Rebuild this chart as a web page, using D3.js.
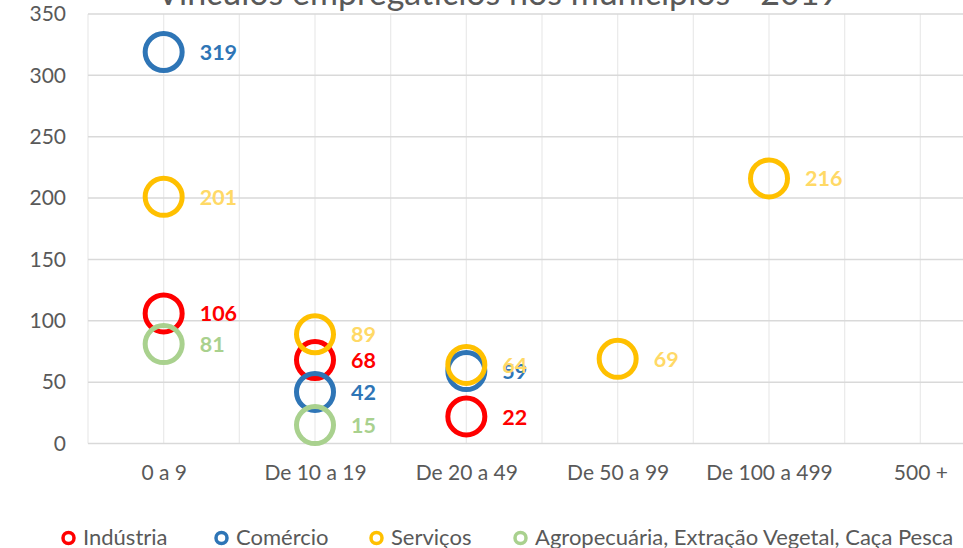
<!DOCTYPE html>
<html>
<head>
<meta charset="utf-8">
<script src="https://cdn.jsdelivr.net/npm/d3@7"></script>
<style>
  body { margin: 0; background: #fff; }
  svg { display: block; overflow: hidden; font-family: Lato, "Open Sans", sans-serif; }
</style>
</head>
<body>
<svg></svg>
<script>
// data
var categories = ["0 a 9", "De 10 a 19", "De 20 a 49", "De 50 a 99", "De 100 a 499", "500 +"];
var yTicks = [0, 50, 100, 150, 200, 250, 300, 350];

var industria = [106, 68, 22, null, null, null];
var comercio = [319, 42, 59, null, null, null];
var servicos = [201, 89, 64, 69, 216, null];
var agro = [81, 15, null, null, null, null];

var seriesNames = ["Indústria", "Comércio", "Serviços", "Agropecuária, Extração Vegetal, Caça Pesca"];
var markerColors = ["#FF0000", "#2E75B6", "#FFC000", "#A9D18E"];
var labelColors = ["#FF0000", "#2E75B6", "#FFD966", "#A9D18E"];
var seriesValues = [industria, comercio, servicos, agro];

var W = 963, H = 548;
var margin = { top: 14, left: 88, bottom: 104 };

var svg = d3.select("svg")
  .attr("width", W)
  .attr("height", H);

// scales - plot goes past the right edge (cropped like the picture)
var x = d3.scaleLinear()
  .domain([0.5, 6.5])
  .range([margin.left, 996]);

var y = d3.scaleLinear()
  .domain([0, 350])
  .range([443.5, margin.top]);

// vertical grid every half unit
var vgrid = d3.range(0.5, 6.6, 0.5);
svg.append("g")
  .selectAll("line")
  .data(vgrid)
  .enter().append("line")
  .attr("x1", d => x(d)).attr("x2", d => x(d))
  .attr("y1", y(350)).attr("y2", y(0))
  .attr("stroke", "#EBEBEB")
  .attr("stroke-width", 1.3);

// horizontal grid
svg.append("g")
  .selectAll("line")
  .data(yTicks)
  .enter().append("line")
  .attr("x1", x(0.5)).attr("x2", W)
  .attr("y1", d => y(d)).attr("y2", d => y(d))
  .attr("stroke", "#D9D9D9")
  .attr("stroke-width", 1.5);

// y axis labels
var yAxis = d3.axisLeft(y).tickValues(yTicks).tickSize(0).tickPadding(22);
svg.append("g")
  .attr("transform", "translate(" + margin.left + ",0)")
  .call(yAxis)
  .call(g => g.select(".domain").remove())
  .selectAll("text")
  .attr("font-family", "Lato")
  .attr("font-size", 21)
  .attr("fill", "#595959");

// x axis labels
var xAxis = d3.axisBottom(x)
  .tickValues(d3.range(1, 7))
  .tickFormat(d => categories[d - 1])
  .tickSize(0)
  .tickPadding(22);
svg.append("g")
  .attr("transform", "translate(0," + y(0) + ")")
  .call(xAxis)
  .call(g => g.select(".domain").remove())
  .selectAll("text")
  .attr("font-family", "Lato")
  .attr("font-size", 21)
  .attr("fill", "#595959");

// title (cut at top)
svg.append("text")
  .attr("x", 498)
  .attr("y", 5)
  .attr("text-anchor", "middle")
  .attr("font-size", 34)
  .attr("fill", "#595959")
  .text("Vínculos empregatícios nos municípios - 2019");

// markers
seriesValues.forEach(function (vals, s) {
  var pts = vals.map((v, i) => ({ i: i + 1, v: v })).filter(d => d.v != null);
  svg.append("g")
    .selectAll("circle")
    .data(pts)
    .enter().append("circle")
    .attr("cx", d => x(d.i))
    .attr("cy", d => y(d.v))
    .attr("r", 18.5)
    .attr("fill", "none")
    .attr("stroke", markerColors[s])
    .attr("stroke-width", 5);
});

// data labels
seriesValues.forEach(function (vals, s) {
  var pts = vals.map((v, i) => ({ i: i + 1, v: v })).filter(d => d.v != null);
  svg.append("g")
    .selectAll("text")
    .data(pts)
    .enter().append("text")
    .attr("x", d => x(d.i) + 36)
    .attr("y", d => y(d.v) + 8)
    .attr("font-size", 21.5)
    .attr("font-weight", "bold")
    .attr("fill", labelColors[s])
    .text(d => d.v);
});

// legend
var legendX = [68.5, 221.5, 376.5, 520.5];
var legend = svg.append("g");
seriesNames.forEach(function (name, s) {
  legend.append("circle")
    .attr("cx", legendX[s])
    .attr("cy", 538)
    .attr("r", 5.5)
    .attr("fill", "none")
    .attr("stroke", markerColors[s])
    .attr("stroke-width", 3.5);
  legend.append("text")
    .attr("x", legendX[s] + 14.5)
    .attr("y", 545)
    .attr("font-size", 22)
    .attr("fill", "#595959")
    .text(name);
});
</script>
</body>
</html>
